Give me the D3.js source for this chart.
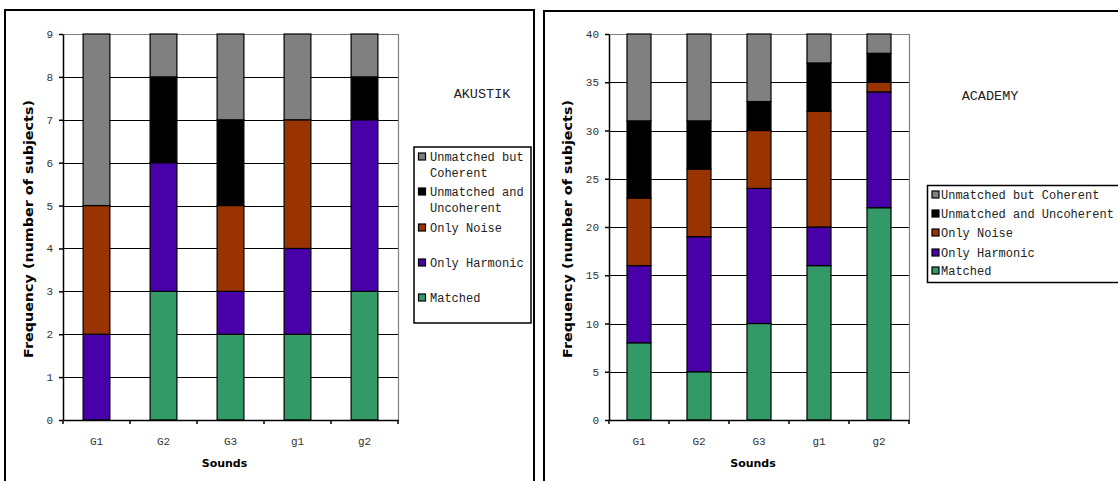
<!DOCTYPE html>
<html><head><meta charset="utf-8">
<script src="https://cdn.jsdelivr.net/npm/d3@7"></script>
<style>body{margin:0;background:#fff}svg{display:block}</style>
</head><body>
<svg id="c" width="1118" height="481"></svg>
<script>
const categories = ["G1","G2","G3","g1","g2"];
const seriesNames = ["Matched","Only Harmonic","Only Noise","Unmatched and Uncoherent","Unmatched but Coherent"];
const colors = ["#339966","#4800a8","#993300","#000000","#808080"];
// AKUSTIK values per series (order of categories)
const akMatched    = [0,3,2,2,3];
const akHarmonic   = [2,3,1,2,4];
const akNoise      = [3,0,2,3,0];
const akUncoherent = [0,2,2,0,1];
const akCoherent   = [4,1,2,2,1];
const akTicks = [0,1,2,3,4,5,6,7,8,9];
// ACADEMY values
const acMatched    = [8,5,10,16,22];
const acHarmonic   = [8,14,14,4,12];
const acNoise      = [7,7,6,12,1];
const acUncoherent = [8,5,3,5,3];
const acCoherent   = [9,9,7,3,2];
const acTicks = [0,5,10,15,20,25,30,35,40];

const svg = d3.select("#c");
const mono = "'Liberation Mono', 'Courier New', monospace";
const boldSans = "'DejaVu Sans', Verdana, sans-serif";

function panel(cfg){
  const g = svg.append("g");
  // frame
  g.append("rect").attr("x",cfg.frame[0]).attr("y",cfg.frame[1]).attr("width",cfg.frame[2]).attr("height",cfg.frame[3])
    .attr("fill","none").attr("stroke","#000").attr("stroke-width",2);
  const x = d3.scaleBand().domain(categories).range([cfg.x0,cfg.x1]).paddingInner(0.6).paddingOuter(0.3);
  const xb = d3.scaleBand().domain(categories).range([cfg.x0,cfg.x1]);
  const y = d3.scaleLinear().domain([0,d3.max(cfg.ticks)]).range([cfg.y0,cfg.y1]);
  // gridlines
  g.append("g").selectAll("line").data(cfg.ticks.slice(1)).join("line")
    .attr("x1",cfg.x0).attr("x2",cfg.x1).attr("y1",d=>Math.round(y(d))+0.5).attr("y2",d=>Math.round(y(d))+0.5)
    .attr("stroke","#000").attr("stroke-width",1.2);
  // plot border (gray) top & right
  g.append("path").attr("d",`M${cfg.x0},${Math.round(cfg.y1)+0.5}H${cfg.x1+0.5}V${cfg.y0}`)
    .attr("fill","none").attr("stroke","#808080").attr("stroke-width",1.2);
  // stacked bars
  const rows = categories.map((c,i)=>{const o={cat:c}; seriesNames.forEach((s,j)=>o[s]=cfg.values[j][i]); return o;});
  const stack = d3.stack().keys(seriesNames)(rows);
  stack.forEach((layer,j)=>{
    g.append("g").selectAll("rect").data(layer.filter(d=>d[1]>d[0])).join("rect")
      .attr("x",d=>x(d.data.cat)).attr("width",x.bandwidth())
      .attr("y",d=>y(d[1])).attr("height",d=>y(d[0])-y(d[1]))
      .attr("fill",colors[j]).attr("stroke","#000").attr("stroke-width",1.2);
  });
  // y axis
  const ya = g.append("g").attr("transform",`translate(${cfg.x0},0)`)
    .call(d3.axisLeft(y).tickValues(cfg.ticks).tickSize(4).tickPadding(6).tickSizeOuter(0));
  ya.select(".domain").attr("stroke","#000").attr("stroke-width",1.5);
  ya.selectAll("line").attr("stroke","#000").attr("stroke-width",1.5);
  ya.selectAll("text").attr("font-family",mono).attr("font-size","11px").attr("fill","#333");
  // x axis
  const xa = g.append("g").attr("transform",`translate(0,${cfg.y0})`)
    .call(d3.axisBottom(xb).tickSize(0).tickPadding(17).tickSizeOuter(0));
  xa.select(".domain").attr("stroke","#000").attr("stroke-width",1.5);
  xa.selectAll("text").attr("font-family",mono).attr("font-size","11px").attr("fill","#333");
  // x boundary ticks
  const bounds = categories.map(c=>xb(c)).concat([cfg.x1]);
  g.append("g").selectAll("line").data(bounds).join("line")
    .attr("x1",d=>d).attr("x2",d=>d).attr("y1",cfg.y0).attr("y2",cfg.y0+4)
    .attr("stroke","#000").attr("stroke-width",1.5);
  // axis titles
  g.append("text").attr("transform",`translate(${cfg.ytx},${(cfg.y0+cfg.y1)/2+2}) rotate(-90)`)
    .attr("text-anchor","middle").attr("font-family",boldSans).attr("font-weight","bold").attr("font-size","12px")
    .attr("textLength",258).attr("lengthAdjust","spacingAndGlyphs")
    .text("Frequency (number of subjects)");
  g.append("text").attr("x",(cfg.x0+cfg.x1)/2-6).attr("y",467).attr("text-anchor","middle")
    .attr("font-family",boldSans).attr("font-weight","bold").attr("font-size","11px").text("Sounds");
  // panel title
  g.append("text").attr("x",cfg.title[0]).attr("y",cfg.title[1]).attr("text-anchor","middle")
    .attr("font-family",mono).attr("font-size","13.5px").attr("fill","#222").text(cfg.name);
  // legend
  const L = cfg.legend;
  g.append("rect").attr("x",L.box[0]).attr("y",L.box[1]).attr("width",L.box[2]).attr("height",L.box[3])
    .attr("fill","#fff").attr("stroke","#000").attr("stroke-width",1.5);
  L.items.forEach(it=>{
    const j = seriesNames.length-1-it.idx;
    g.append("rect").attr("x",L.sx).attr("y",it.y-4).attr("width",7).attr("height",7)
      .attr("fill",colors[it.s]).attr("stroke","#000").attr("stroke-width",1.2);
    it.lines.forEach((t,k)=>{
      g.append("text").attr("x",L.tx).attr("y",it.y+4+k*16).attr("font-family",mono).attr("font-size","12px")
        .attr("fill","#222").text(t);
    });
  });
}

panel({
  name:"AKUSTIK", frame:[5,10,529,500], x0:63, x1:398, y0:420, y1:34, ytx:33,
  ticks:akTicks, values:[akMatched,akHarmonic,akNoise,akUncoherent,akCoherent],
  title:[482,98],
  legend:{box:[414,147,117,176], sx:418.5, tx:430, items:[
    {s:4,idx:0,y:157,lines:["Unmatched but","Coherent"]},
    {s:3,idx:1,y:192,lines:["Unmatched and","Uncoherent"]},
    {s:2,idx:2,y:228,lines:["Only Noise"]},
    {s:1,idx:3,y:263,lines:["Only Harmonic"]},
    {s:0,idx:4,y:298,lines:["Matched"]}
  ]}
});
panel({
  name:"ACADEMY", frame:[544,11,600,500], x0:609, x1:909, y0:420, y1:34, ytx:572,
  ticks:acTicks, values:[acMatched,acHarmonic,acNoise,acUncoherent,acCoherent],
  title:[990,100],
  legend:{box:[927.5,185.5,220,97], sx:932, tx:941, items:[
    {s:4,idx:0,y:195,lines:["Unmatched but Coherent"]},
    {s:3,idx:1,y:214,lines:["Unmatched and Uncoherent"]},
    {s:2,idx:2,y:233,lines:["Only Noise"]},
    {s:1,idx:3,y:253,lines:["Only Harmonic"]},
    {s:0,idx:4,y:271,lines:["Matched"]}
  ]}
});
</script>
</body></html>
